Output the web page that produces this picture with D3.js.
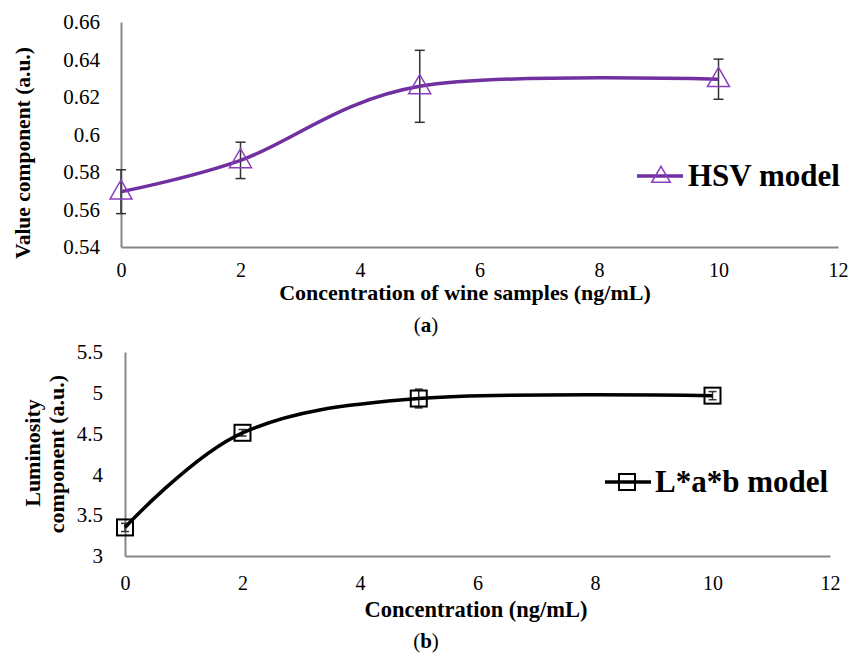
<!DOCTYPE html>
<html>
<head>
<meta charset="utf-8">
<script src="https://cdn.jsdelivr.net/npm/d3@7"></script>
<style>
  body { margin: 0; background: #fff; }
  svg text { font-family: "Liberation Serif", "Tinos", "DejaVu Serif", serif; fill: #000; }
</style>
</head>
<body>
<div id="chart"></div>
<script>
// Datos
var concentraciones = [0, 2, 5, 10];
var hsvValor = [0.5695, 0.5862, 0.6257, 0.6295];
var hsvError = [0.0117, 0.0097, 0.0192, 0.0107];
var labLuminosidad = [3.35, 4.51, 4.93, 4.965];
var labError = [0.05, 0.04, 0.115, 0.05];
var ticksX = [0, 2, 4, 6, 8, 10, 12];
var ticksHsv = [0.54, 0.56, 0.58, 0.6, 0.62, 0.64, 0.66];
var ticksLab = [3, 3.5, 4, 4.5, 5, 5.5];

var svgWidth = 853, svgHeight = 659;
var purpura = "#7030a0";
var fuente = "'Liberation Serif', 'Tinos', 'DejaVu Serif', serif";

var svg = d3.select("#chart")
  .append("svg")
    .attr("width", svgWidth)
    .attr("height", svgHeight)
    .attr("font-family", fuente);

// ---------- Panel (a) ----------
var xA = d3.scaleLinear().domain([0, 12]).range([121, 838]);
var yA = d3.scaleLinear().domain([0.54, 0.66]).range([247, 22]);

var gA = svg.append("g");

gA.append("g")
    .attr("transform", "translate(121,0)")
    .call(d3.axisLeft(yA).tickValues(ticksHsv).tickSize(0).tickPadding(21)
      .tickFormat(function(d) { return String(+d.toFixed(2)); }))
    .call(estiloEje, "21px");

gA.append("g")
    .attr("transform", "translate(0,247)")
    .call(d3.axisBottom(xA).tickValues(ticksX).tickSize(0).tickPadding(16))
    .call(estiloEje, "20px");

// barras de error
var errA = gA.selectAll(".errA").data(concentraciones).enter().append("g");
errA.append("line")
    .attr("x1", function(d) { return xA(d); })
    .attr("x2", function(d) { return xA(d); })
    .attr("y1", function(d, i) { return yA(hsvValor[i] + hsvError[i]); })
    .attr("y2", function(d, i) { return yA(hsvValor[i] - hsvError[i]); })
    .attr("stroke", "#333").attr("stroke-width", 1.5);
[1, -1].forEach(function(s) {
  errA.append("line")
      .attr("x1", function(d) { return xA(d) - 5; })
      .attr("x2", function(d) { return xA(d) + 5; })
      .attr("y1", function(d, i) { return yA(hsvValor[i] + s * hsvError[i]); })
      .attr("y2", function(d, i) { return yA(hsvValor[i] + s * hsvError[i]); })
      .attr("stroke", "#333").attr("stroke-width", 1.5);
});

var lineaA = d3.line()
    .x(function(d, i) { return xA(concentraciones[i]); })
    .y(function(d) { return yA(d); })
    .curve(d3.curveCardinal.tension(0));

gA.append("path")
    .datum(hsvValor)
    .attr("d", lineaA)
    .attr("fill", "none")
    .attr("stroke", purpura)
    .attr("stroke-width", 3.5);

var triangulo = d3.symbol().type(d3.symbolTriangle).size(210);
gA.selectAll(".triA").data(hsvValor).enter().append("path")
    .attr("d", triangulo)
    .attr("transform", function(d, i) { return "translate(" + xA(concentraciones[i]) + "," + (yA(d) + 1) + ")"; })
    .attr("fill", "none")
    .attr("stroke", "#8a3fbf")
    .attr("stroke-width", 1.5);

// leyenda (a)
gA.append("line").attr("x1", 637).attr("x2", 683).attr("y1", 176).attr("y2", 176)
    .attr("stroke", purpura).attr("stroke-width", 3.5);
gA.append("path").attr("d", d3.symbol().type(d3.symbolTriangle).size(150))
    .attr("transform", "translate(661,177)")
    .attr("fill", "none").attr("stroke", "#8a3fbf").attr("stroke-width", 1.5);
gA.append("text").attr("x", 688).attr("y", 186)
    .style("font-size", "31px").style("font-weight", "bold")
    .text("HSV model");

gA.append("text")
    .attr("x", 465).attr("y", 300)
    .attr("text-anchor", "middle")
    .style("font-size", "22px").style("font-weight", "bold")
    .text("Concentration of wine samples (ng/mL)");

gA.append("text")
    .attr("transform", "translate(30,153) rotate(-90)")
    .attr("text-anchor", "middle")
    .style("font-size", "21.5px").style("font-weight", "bold")
    .text("Value component (a.u.)");

var etA = svg.append("text").attr("x", 426).attr("y", 332)
    .attr("text-anchor", "middle").style("font-size", "21px");
etA.append("tspan").text("(");
etA.append("tspan").style("font-weight", "bold").text("a");
etA.append("tspan").text(")");

// ---------- Panel (b) ----------
var xB = d3.scaleLinear().domain([0, 12]).range([125, 830]);
var yB = d3.scaleLinear().domain([3, 5.5]).range([556, 352]);

var gB = svg.append("g");

gB.append("g")
    .attr("transform", "translate(125,0)")
    .call(d3.axisLeft(yB).tickValues(ticksLab).tickSize(0).tickPadding(22)
      .tickFormat(function(d) { return String(d); }))
    .call(estiloEje, "21px");

gB.append("g")
    .attr("transform", "translate(0,556)")
    .call(d3.axisBottom(xB).tickValues(ticksX).tickSize(0).tickPadding(20))
    .call(estiloEje, "20px");

var errB = gB.selectAll(".errB").data(concentraciones).enter().append("g");
errB.append("line")
    .attr("x1", function(d) { return xB(d); })
    .attr("x2", function(d) { return xB(d); })
    .attr("y1", function(d, i) { return yB(labLuminosidad[i] + labError[i]); })
    .attr("y2", function(d, i) { return yB(labLuminosidad[i] - labError[i]); })
    .attr("stroke", "#333").attr("stroke-width", 1.5);
[1, -1].forEach(function(s) {
  errB.append("line")
      .attr("x1", function(d) { return xB(d) - 4; })
      .attr("x2", function(d) { return xB(d) + 4; })
      .attr("y1", function(d, i) { return yB(labLuminosidad[i] + s * labError[i]); })
      .attr("y2", function(d, i) { return yB(labLuminosidad[i] + s * labError[i]); })
      .attr("stroke", "#333").attr("stroke-width", 1.5);
});

var lineaB = d3.line()
    .x(function(d, i) { return xB(concentraciones[i]); })
    .y(function(d) { return yB(d); })
    .curve(d3.curveCardinal.tension(0));

gB.append("path")
    .datum(labLuminosidad)
    .attr("d", lineaB)
    .attr("fill", "none")
    .attr("stroke", "#000")
    .attr("stroke-width", 3.5);

gB.selectAll(".cuadB").data(labLuminosidad).enter().append("rect")
    .attr("x", function(d, i) { return xB(concentraciones[i]) - 8; })
    .attr("y", function(d) { return yB(d) - 8; })
    .attr("width", 16).attr("height", 16)
    .attr("fill", "none")
    .attr("stroke", "#000")
    .attr("stroke-width", 2);

// leyenda (b)
gB.append("line").attr("x1", 605).attr("x2", 651).attr("y1", 482).attr("y2", 482)
    .attr("stroke", "#000").attr("stroke-width", 3.5);
gB.append("rect").attr("x", 619).attr("y", 474).attr("width", 16).attr("height", 16)
    .attr("fill", "none").attr("stroke", "#000").attr("stroke-width", 2);
gB.append("text").attr("x", 655).attr("y", 492)
    .style("font-size", "31px").style("font-weight", "bold")
    .text("L*a*b model");

gB.append("text")
    .attr("x", 476).attr("y", 617)
    .attr("text-anchor", "middle")
    .style("font-size", "22.5px").style("font-weight", "bold")
    .text("Concentration (ng/mL)");

gB.append("text")
    .attr("transform", "translate(40,453) rotate(-90)")
    .attr("text-anchor", "middle")
    .style("font-size", "22px").style("font-weight", "bold")
    .text("Luminosity");
gB.append("text")
    .attr("transform", "translate(64,454) rotate(-90)")
    .attr("text-anchor", "middle")
    .style("font-size", "22px").style("font-weight", "bold")
    .text("component (a.u.)");

var etB = svg.append("text").attr("x", 426).attr("y", 648)
    .attr("text-anchor", "middle").style("font-size", "21px");
etB.append("tspan").text("(");
etB.append("tspan").style("font-weight", "bold").text("b");
etB.append("tspan").text(")");

function estiloEje(g, tam) {
  g.attr("font-family", fuente);
  g.select(".domain").attr("stroke", "#868686").attr("stroke-width", 2);
  g.selectAll("text").style("font-size", tam)
    .style("font-family", fuente)
    .attr("fill", "#000");
}
</script>
</body>
</html>
